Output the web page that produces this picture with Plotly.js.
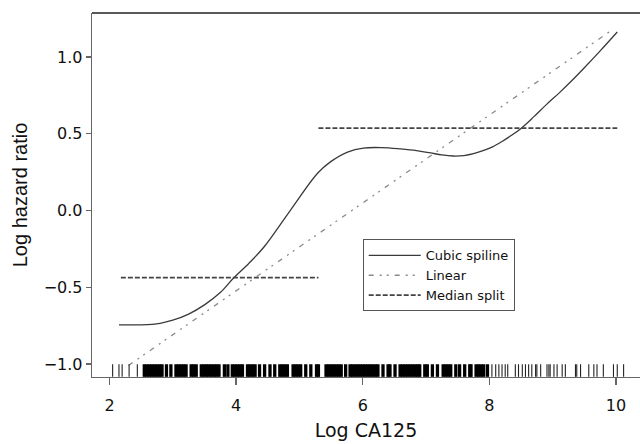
<!DOCTYPE html>
<html>
<head>
<meta charset="utf-8">
<script src="https://cdn.plot.ly/plotly-3.0.1.min.js"></script>
<style>html,body{margin:0;padding:0;background:#fff;}#chart{width:640px;height:444px;}</style>
</head>
<body>
<div id="chart"></div>
<script>
// Cubic spline fit (log hazard ratio vs log CA125)
const splineX = [2.15, 2.5, 2.8, 3.0, 3.25, 3.5, 3.75, 3.96, 4.2, 4.44, 4.86, 5.29, 5.5, 5.76, 6.01, 6.3, 6.6, 6.85, 7.07, 7.25, 7.43, 7.6, 7.75, 7.9, 8.05, 8.2, 8.35, 8.5, 8.7, 8.9, 9.1, 9.3, 9.5, 9.75, 10.02];
const splineY = [-0.745, -0.745, -0.735, -0.715, -0.675, -0.615, -0.535, -0.44, -0.345, -0.238, 0.003, 0.244, 0.32, 0.381, 0.407, 0.41, 0.401, 0.39, 0.375, 0.362, 0.355, 0.358, 0.37, 0.39, 0.415, 0.45, 0.49, 0.535, 0.61, 0.69, 0.765, 0.845, 0.93, 1.04, 1.163];
// Linear fit
const linearX = [2.3, 9.95];
const linearY = [-1.01, 1.18];
// Median split (two groups)
const medianX = [2.18, 5.3, null, 5.3, 10.02];
const medianY = [-0.437, -0.437, null, 0.537, 0.537];
// Rug of observed log CA125 values
const rugSparse = [2.05, 2.15, 2.20, 2.31, 2.44, 8.04, 8.10, 8.15, 8.20, 8.25, 8.29, 8.41, 8.46, 8.52, 8.57, 8.62, 8.67, 8.73, 8.75, 8.81, 8.91, 8.94, 8.96, 9.02, 9.07, 9.15, 9.20, 9.36, 9.38, 9.44, 9.57, 9.65, 9.70, 9.80, 9.96, 10.02, 10.12];
const rugDense = [2.55, 2.59, 2.63, 2.67, 2.71, 2.75, 2.79, 2.83, 2.90, 2.97, 3.05, 3.09, 3.13, 3.17, 3.21, 3.29, 3.33, 3.37, 3.45, 3.49, 3.53, 3.57, 3.61, 3.65, 3.69, 3.73, 3.815, 3.87, 3.94, 3.98, 4.02, 4.06, 4.10, 4.18, 4.22, 4.26, 4.30, 4.37, 4.45, 4.535, 4.61, 4.69, 4.73, 4.77, 4.81, 4.90, 4.94, 4.98, 5.02, 5.10, 5.18, 5.27, 5.30, 5.42, 5.46, 5.50, 5.54, 5.58, 5.62, 5.66, 5.73, 5.80, 5.84, 5.88, 5.92, 5.96, 6.00, 6.04, 6.08, 6.12, 6.16, 6.20, 6.24, 6.32, 6.40, 6.43, 6.51, 6.59, 6.63, 6.67, 6.71, 6.75, 6.79, 6.83, 6.87, 6.90, 6.98, 7.02, 7.10, 7.18, 7.27, 7.31, 7.35, 7.39, 7.47, 7.53, 7.61, 7.69, 7.71, 7.79, 7.83, 7.87, 7.91, 7.97];
const rugLevel = -1.043;
const xTicks = [2, 4, 6, 8, 10];
const yTicks = [-1.0, -0.5, 0.0, 0.5, 1.0];
const yTickText = ["\u22121.0", "\u22120.5", "0.0", "0.5", "1.0"];
const legendNames = ["Cubic spiline", "Linear", "Median split"];

const traces = [
  {x: splineX, y: splineY, mode: 'lines', name: legendNames[0],
   line: {color: '#3a3a3a', width: 1.3, shape: 'spline', smoothing: 1}},
  {x: linearX, y: linearY, mode: 'lines', name: legendNames[1],
   line: {color: '#8a8a8a', width: 1.3, dash: '5px,6px,2px,5px,2px,6px'}},
  {x: medianX, y: medianY, mode: 'lines', name: legendNames[2],
   line: {color: '#444444', width: 1.8, dash: '5px,2px'}},
  {x: rugDense, y: rugDense.map(() => rugLevel), mode: 'markers', showlegend: false, hoverinfo: 'skip',
   marker: {symbol: 'line-ns', size: 9, color: '#000', line: {color: '#000', width: 3.3}}},
  {x: rugSparse, y: rugSparse.map(() => rugLevel), mode: 'markers', showlegend: false, hoverinfo: 'skip',
   marker: {symbol: 'line-ns', size: 9, color: '#000', line: {color: '#222', width: 1.1}}}
];

const tickFont = {family: 'DejaVu Sans, sans-serif', size: 16, color: '#111'};
const layout = {
  width: 640, height: 444,
  margin: {l: 92, r: 0, t: 13, b: 67},
  paper_bgcolor: '#fff', plot_bgcolor: '#fff',
  showlegend: true,
  legend: {x: 0.494, y: 0.378, xanchor: 'left', yanchor: 'top',
           bgcolor: '#fff', bordercolor: '#555', borderwidth: 1,
           font: {family: 'DejaVu Sans, sans-serif', size: 13, color: '#111'},
           itemwidth: 52,
           tracegroupgap: 0},
  xaxis: {range: [1.724, 10.379], tickvals: xTicks, ticktext: xTicks.map(String),
          showgrid: false, zeroline: false, showline: true, linecolor: '#666', linewidth: 1.3,
          ticks: 'outside', ticklen: 7, tickwidth: 1.3, tickcolor: '#666',
          tickfont: tickFont, ticklabelstandoff: 6,
          title: {text: 'Log CA125', font: {family: 'DejaVu Sans, sans-serif', size: 19, color: '#111'}, standoff: 10}},
  yaxis: {range: [-1.085, 1.287], tickvals: yTicks, ticktext: yTickText,
          showgrid: false, zeroline: false, showline: true, linecolor: '#666', linewidth: 1.3,
          ticks: 'outside', ticklen: 5, tickwidth: 1.3, tickcolor: '#666',
          tickfont: tickFont,
          title: {text: 'Log hazard ratio', font: {family: 'Liberation Sans, Arial, sans-serif', size: 20, color: '#111'}, standoff: 10}},
  shapes: [{type: 'line', xref: 'paper', yref: 'paper', x0: 0, x1: 1, y0: 1, y1: 1,
            line: {color: '#222', width: 1.6}}]
};

Plotly.newPlot('chart', traces, layout, {staticPlot: true, displayModeBar: false});
</script>
</body>
</html>
